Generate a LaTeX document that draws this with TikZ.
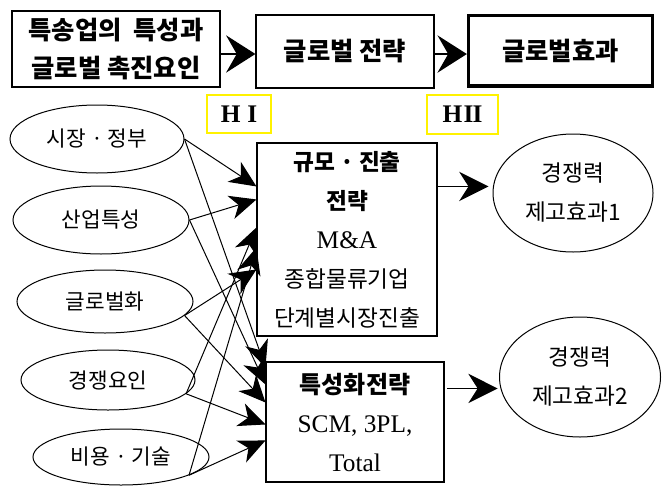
\documentclass[tikz,border=0pt]{standalone}
\usepackage{fontspec}
\setmainfont{Liberation Serif}
\newfontfamily\kr{Noto Sans CJK KR}
\usetikzlibrary{shapes.geometric,arrows.meta}
\begin{document}
\begin{tikzpicture}[x=0.75pt,y=-0.75pt,
  box/.style={draw=black, line width=0.9pt, inner sep=0pt, align=center},
  hbox/.style={draw=yellow, line width=1pt, inner sep=0pt,
    font={\bfseries\fontsize{19}{22}\selectfont}},
  oval/.style={ellipse, draw=black, line width=0.75pt, inner sep=0pt, align=center},
  headfont/.style={font={\kr\bfseries\fontsize{19}{28.5}\selectfont}},
  smallfont/.style={font={\kr\fontsize{16}{20}\selectfont}},
  midfont/.style={font={\kr\fontsize{17}{29.25}\selectfont}},
  flow/.style={line width=1pt, -{Stealth[length=22pt,width=28pt,inset=8pt]}},
  rflow/.style={line width=0.9pt, -{Stealth[length=22pt,width=22pt,inset=7pt]}},
  link/.style={line width=0.75pt, -{Stealth[length=20pt,width=18pt,inset=6pt]}}
]
\useasboundingbox[fill=white] (0,0) rectangle (670,489);

% top row
\node[box, headfont, minimum width=156pt, minimum height=57pt] (b1) at (116,49)
  {특송업의\ \ 특성과\\글로벌 촉진요인};
\node[box, headfont, minimum width=133.5pt, minimum height=54.75pt] (b2) at (345,51.5)
  {글로벌 전략};
\node[box, headfont, line width=2.5pt, minimum width=138pt, minimum height=53pt] (b3) at (560.5,50.5)
  {글로벌효과};

% hypothesis labels
\node[hbox, minimum width=48pt, minimum height=28.5pt] (h1) at (239,114) {H\kern5pt I};
\node[hbox, minimum width=53.25pt, minimum height=29.25pt] (h2) at (462.5,114.5) {H\kern1pt I\kern-0.7pt I};

% strategy boxes
\node[box, midfont, line width=0.8pt, minimum width=135pt, minimum height=144.75pt] (tb) at (347,239.5)
  {{\bfseries 규모 · 진출}\\{\bfseries 전략}\\{\rmfamily\fontsize{19}{29.25}\selectfont M\&A}\\종합물류기업\\단계별시장진출};
\node[box, midfont, line width=0.8pt, minimum width=133.5pt, minimum height=90pt] (bb) at (355,422)
  {{\bfseries\fontsize{18}{29.25}\selectfont 특성화전략}\\{\rmfamily\fontsize{19}{28.5}\selectfont SCM, 3PL,}\\{\rmfamily\fontsize{19}{28.5}\selectfont Total}};

% effect ellipses
\node[oval, midfont, minimum width=120pt, minimum height=88.5pt] (e1) at (573,193) {경쟁력\\제고효과1};
\node[oval, midfont, minimum width=120.75pt, minimum height=90pt] (e2) at (580,377) {경쟁력\\제고효과2};

% factor ellipses
\node[oval, smallfont, minimum width=130.5pt, minimum height=51pt] (L1) at (97,139) {시장 · 정부};
\node[oval, smallfont, minimum width=132pt, minimum height=51pt] (L2) at (101,220) {산업특성};
\node[oval, smallfont, minimum width=132pt, minimum height=47.25pt] (L3) at (105,301.5) {글로벌화};
\node[oval, smallfont, minimum width=130.5pt, minimum height=45pt] (L4) at (108,380) {경쟁요인};
\node[oval, smallfont, minimum width=132pt, minimum height=42pt] (L5) at (121,457) {비용 · 기술};

% top flow arrows
\draw[flow] ([yshift=-3.75pt]b1.east) -- ([yshift=-3.75pt]b1.east -| b2.west);
\draw[flow] ([yshift=-1.9pt]b2.east) -- ([yshift=-1.9pt]b2.east -| b3.west);

% strategy -> effect arrows
\draw[rflow] ([yshift=-33pt]tb.north east) -- ([yshift=-33pt,xshift=-3pt]tb.north east -| e1.west);
\draw[rflow] ([xshift=2pt,yshift=-20.25pt]bb.north east) -- ([yshift=-20.25pt,xshift=-1pt]bb.north east -| e2.west);

% factor -> strategy links
\draw[link] (L1.east) -- ([yshift=-33pt]tb.north west);
\draw[link] (L1.east) -- ([yshift=-4.5pt]bb.north west);
\draw[link] (L2.east) -- ([yshift=-42.75pt]tb.north west);
\draw[link] (L2.east) -- ([yshift=-17.25pt]bb.north west);
\draw[link] (L3.-10) -- ([yshift=-95.25pt]tb.north west);
\draw[link] (L3.-10) -- ([yshift=-30.75pt]bb.north west);
\draw[link] (L4.-10) -- ([yshift=-63.75pt]tb.north west);
\draw[link] (L4.-10) -- ([yshift=-47.25pt]bb.north west);
\draw[link] (L5.-15) -- ([yshift=-78.75pt]tb.north west);
\draw[link] (L5.-15) -- ([yshift=-59.25pt]bb.north west);
\end{tikzpicture}
\end{document}
